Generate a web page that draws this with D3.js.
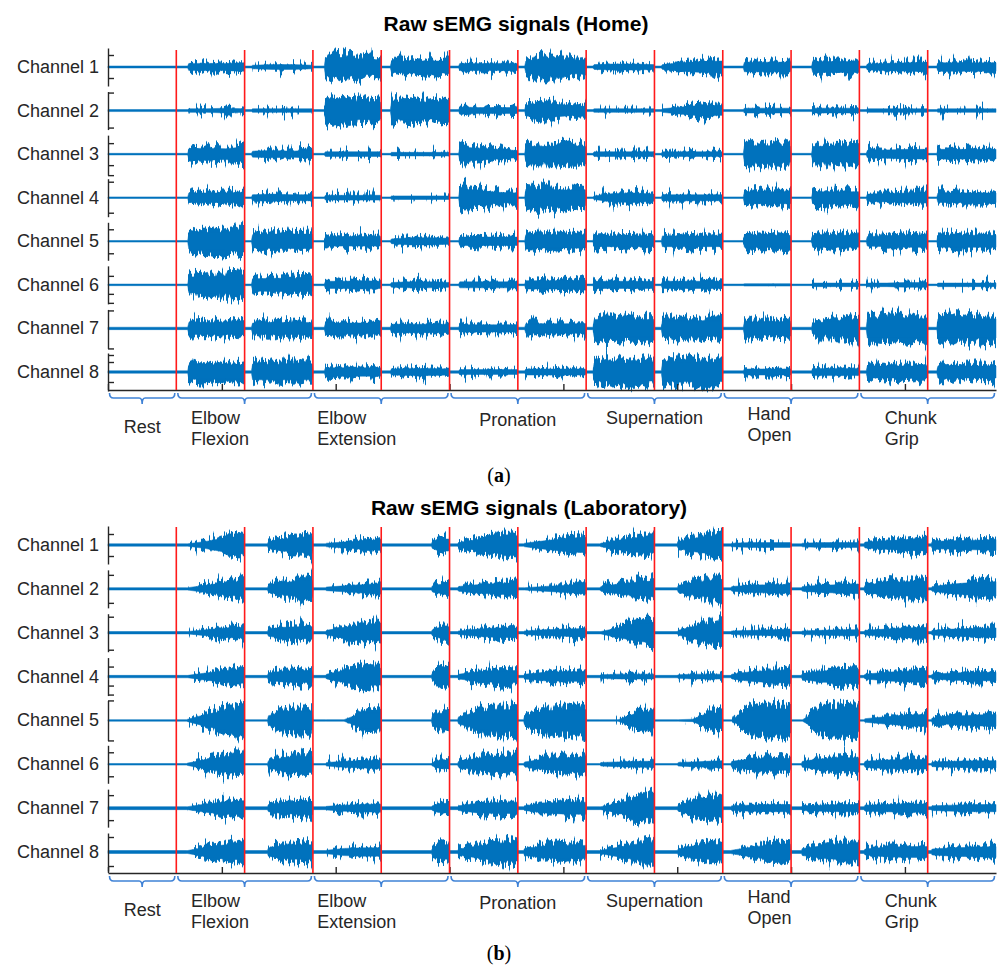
<!DOCTYPE html>
<html>
<head>
<meta charset="utf-8">
<script src="https://cdn.jsdelivr.net/npm/d3@7"></script>
<style>
  body { margin: 0; background: #fff; }
  svg { display: block; }
  text { font-family: "Liberation Sans", Arial, sans-serif; }
</style>
</head>
<body>
<svg id="chart" width="998" height="972"></svg>
<script>
// ---- data ----
const channels = ["Channel 1", "Channel 2", "Channel 3", "Channel 4", "Channel 5", "Channel 6", "Channel 7", "Channel 8"];
const gestureLines = [["Rest"], ["Elbow", "Flexion"], ["Elbow", "Extension"], ["Pronation"], ["Supernation"], ["Hand", "Open"], ["Chunk", "Grip"]];
const gestureSpans = [[0, 3], [3, 9], [9, 15], [15, 21], [21, 27], [27, 33], [33, 39]];   // seconds
const trialBounds = [3, 6, 9, 12, 15, 18, 21, 24, 27, 30, 33, 36];                      // red markers
const timeTicks = [0, 5, 10, 15, 20, 25, 30, 35];
const trialLength = 3;

// burst onset (s) for each of the 12 trials
const homeOnsets = [3.5, 6.3, 9.5, 12.4, 15.4, 18.3, 21.3, 24.3, 27.9, 30.9, 33.3, 36.4];
const labOnsets = [3.45, 7.0, 9.55, 14.2, 15.35, 18.25, 21.6, 25.0, 27.35, 30.45, 33.2, 36.15];

// resting noise amplitude per channel
const homeRest = [1, 1, 0.8, 0.8, 0.8, 0.8, 1.2, 1.2];
const labRest = [1.2, 1.2, 1.2, 1.2, 0.8, 0.8, 1.5, 1.5];

// burst envelope amplitude per channel and trial, 4 values from onset to trial end
const homeAmp = [
  [[6,6,6,7],[3,4,4,3],[15,16,13,12],[9,10,10,10],[6,6,6,6],[10,15,12,11],[4,5,5,4],[4,7,9,10],[8,8,8,8],[9,9,9,9],[5,6,7,8],[7,7,7,7]],
  [[3,3,4,3],[3,3,3,3],[15,16,15,14],[14,15,14,14],[6,5,5,5],[9,12,9,7],[3,3,3,3],[3,6,9,8],[4,4,4,4],[4,4,4,4],[3,3,3,3],[3,3,3,3]],
  [[9,10,9,12],[5,6,5,7],[4,4,4,4],[3,3,3,3],[12,10,8,6],[13,13,14,13],[4,4,4,4],[4,4,4,4],[14,14,14,13],[13,13,13,13],[6,7,8,8],[8,8,8,8]],
  [[8,8,8,9],[5,6,5,5],[4,4,4,4],[3,3,3,3],[15,12,9,8],[14,14,13,13],[3,7,8,6],[5,5,5,5],[10,10,10,10],[10,10,10,10],[6,7,8,9],[8,8,8,8]],
  [[13,15,15,18],[11,12,12,12],[8,8,8,8],[4,6,6,5],[7,7,7,7],[11,11,11,11],[9,9,9,9],[9,9,9,9],[10,10,10,10],[10,10,10,10],[8,9,10,10],[10,10,10,10]],
  [[13,14,15,17],[10,11,11,11],[6,6,7,6],[4,5,5,4],[5,5,5,5],[7,7,7,8],[6,6,6,6],[6,6,6,6],[2,2,2,2],[3,3,3,3],[3,3,4,4],[3,3,3,3]],
  [[10,10,10,10],[9,10,10,10],[9,9,9,9],[7,7,7,7],[6,6,6,6],[8,8,8,8],[15,15,15,15],[13,13,13,13],[11,11,11,12],[9,11,13,15],[16,16,16,16],[16,16,16,16]],
  [[12,12,12,12],[13,13,13,13],[7,7,7,7],[5,6,6,5],[4,4,4,4],[5,5,5,5],[15,15,15,15],[15,16,17,16],[5,5,5,5],[6,6,6,6],[10,10,10,10],[10,10,10,10]]
];
const labAmp = [
  [[2,6,12,15],[6,10,12,14],[3,5,7,9],[6,9,10,10],[4,9,14,15],[3,7,11,13],[3,8,12,13],[6,11,14,16],[3,4,4,4],[3,4,4,4],[5,7,9,10],[6,7,8,9]],
  [[2,6,10,13],[6,10,13,15],[3,5,7,9],[5,7,8,8],[4,7,9,10],[2,4,6,8],[4,8,11,13],[6,10,13,16],[4,6,7,7],[4,6,7,8],[6,10,12,13],[4,8,11,12]],
  [[2,5,8,9],[6,9,10,10],[4,9,12,12],[5,8,10,10],[3,6,8,8],[3,5,6,7],[2,8,14,17],[4,10,14,16],[3,4,5,6],[3,4,5,5],[4,6,8,9],[4,6,7,8]],
  [[2,6,10,11],[6,9,10,10],[4,10,15,14],[6,12,14,14],[4,8,10,10],[4,7,8,8],[3,4,4,4],[3,4,4,4],[4,8,10,11],[5,9,11,12],[4,7,9,10],[4,6,7,7]],
  [[2,10,16,18],[8,14,16,16],[1,1,13,13],[8,12,12,12],[6,14,18,18],[8,16,18,18],[1,1,12,13],[1,2,12,13],[1,18,19,19],[1,18,19,19],[3,6,9,10],[4,7,9,10]],
  [[2,8,13,14],[6,11,13,13],[3,5,6,7],[3,6,7,7],[5,10,12,12],[4,9,11,12],[3,4,5,5],[3,4,5,6],[5,9,10,10],[5,9,11,11],[5,7,8,8],[4,5,6,6]],
  [[2,7,10,10],[6,9,10,11],[3,5,6,7],[4,7,8,8],[4,8,9,9],[4,8,10,10],[2,8,15,17],[5,11,14,15],[4,5,6,6],[4,5,6,6],[5,6,7,7],[4,5,6,6]],
  [[2,8,12,13],[7,11,12,12],[3,6,7,7],[6,10,12,12],[5,10,14,15],[6,10,11,11],[3,8,13,16],[5,10,12,13],[3,8,12,13],[6,10,13,13],[5,8,9,9],[5,7,8,9]]
];

// y tick values of each channel's small axis
const homeTicks = [[12,-11],[18,-17],[11,-11,-21],[16,-15],[12,-12],[9,-9,-18],[18,-20],[17,10,-10]];
const labTicks = [[11,-11],[14,-14],[16,-17],[10,-9,-18],[20,-20],[12,-12],[13,-12],[15,-14]];

// ---- layout ----
const colors = {
  signal: "#0072bd",
  marker: "#ff1a1a",
  axis: "#262626",
  brace: "#3f82d6",
  text: "#262626"
};
const left = 108, right = 996;
const labelDy = [43, 34, 34, 36, 34, 30, 34];   // baseline of first label line below the axis
const coreShare = 0.6;                          // part of the envelope drawn solid, the rest gets a rough edge
const panels = [
  { title: "Raw sEMG signals (Home)", titleX: 516, titleY: 31, top: 50, axisY: 390, chanFirst: 67, chanLast: 372,
    onsets: homeOnsets, rest: homeRest, amp: homeAmp, ticks: homeTicks, tag: "a", tagY: 482 },
  { title: "Raw sEMG signals (Laboratory)", titleX: 529, titleY: 515, top: 527, axisY: 873, chanFirst: 545, chanLast: 852,
    onsets: labOnsets, rest: labRest, amp: labAmp, ticks: labTicks, tag: "b", tagY: 960 }
];

const svg = d3.select("#chart");
const x = d3.scaleLinear().domain([0, 39]).range([left, right]);

// rough edge for the bursts: vertical blur of the envelope cut by a column-wise texture,
// kept close to the envelope
const defs = svg.append("defs");
const f = defs.append("filter").attr("id", "rough")
  .attr("x", "0%").attr("y", "-40%").attr("width", "100%").attr("height", "180%")
  .attr("color-interpolation-filters", "sRGB");
f.append("feGaussianBlur").attr("in", "SourceAlpha").attr("stdDeviation", "0 4.5").attr("result", "b");
f.append("feTurbulence").attr("type", "fractalNoise").attr("baseFrequency", "0.45 0.03")
  .attr("numOctaves", 2).attr("seed", 7).attr("result", "t");
f.append("feColorMatrix").attr("in", "t").attr("type", "matrix")
  .attr("values", "0 0 0 0 0  0 0 0 0 0  0 0 0 0 0  1 0 0 0 0").attr("result", "n");
f.append("feComposite").attr("in", "b").attr("in2", "n").attr("operator", "arithmetic")
  .attr("k1", 0).attr("k2", 1).attr("k3", 1.8).attr("k4", -0.95).attr("result", "m");
f.append("feComponentTransfer").attr("in", "m").attr("result", "mk")
  .append("feFuncA").attr("type", "linear").attr("slope", 10).attr("intercept", -5);
f.append("feComponentTransfer").attr("in", "b").attr("result", "near")
  .append("feFuncA").attr("type", "linear").attr("slope", 30).attr("intercept", -0.9);
f.append("feComposite").attr("in", "mk").attr("in2", "near").attr("operator", "in").attr("result", "mask");
f.append("feFlood").attr("flood-color", colors.signal).attr("result", "c");
f.append("feComposite").attr("in", "c").attr("in2", "mask").attr("operator", "in");

// build the envelope points of one channel
function envelope(onsets, rest, amps) {
  const pts = [{ t: 0, a: rest }];
  onsets.forEach((o, k) => {
    const end = trialLength * (k + 2);
    const step = (end - o) / 3;
    const a = amps[k];
    const last = k === onsets.length - 1;
    pts.push({ t: o, a: rest });
    pts.push({ t: o + 0.05, a: a[0] });
    pts.push({ t: o + step, a: a[1] });
    pts.push({ t: o + 2 * step, a: a[2] });
    pts.push({ t: last ? end : end - 0.03, a: a[3] });
    if (!last) pts.push({ t: end, a: rest });
  });
  return pts;
}

function drawPanel(p) {
  const g = svg.append("g");
  const chanY = d3.scalePoint().domain(channels).range([p.chanFirst, p.chanLast]);

  g.append("text")
    .attr("x", p.titleX).attr("y", p.titleY)
    .attr("text-anchor", "middle")
    .attr("font-size", 21).attr("font-weight", "bold")
    .attr("fill", "#000")
    .text(p.title);

  channels.forEach((name, i) => {
    const cy = chanY(name);
    const y = d3.scaleLinear().domain([-20, 20]).range([cy + 20, cy - 20]);
    const rest = p.rest[i];

    // rough outer envelope of the bursts
    g.append("path")
      .datum(envelope(p.onsets, 0, p.amp[i]))
      .attr("d", d3.area().x(d => x(d.t)).y0(d => y(-d.a)).y1(d => y(d.a)))
      .attr("fill", colors.signal)
      .attr("filter", "url(#rough)");

    // solid core of the signal, including the resting line
    g.append("path")
      .datum(envelope(p.onsets, rest, p.amp[i]))
      .attr("d", d3.area().x(d => x(d.t))
        .y0(d => y(-Math.max(rest, d.a * coreShare)))
        .y1(d => y(Math.max(rest, d.a * coreShare))))
      .attr("fill", colors.signal)
      .attr("stroke", colors.signal)
      .attr("stroke-width", 0.5)
      .attr("stroke-linejoin", "round");

    // per-channel axis segment
    const ext = d3.extent(p.ticks[i].concat([-19, 19]));
    const yAx = d3.scaleLinear().domain(ext).range([y(ext[0]), y(ext[1])]);
    const ax = g.append("g")
      .attr("transform", `translate(${left},0)`)
      .call(d3.axisRight(yAx).tickValues(p.ticks[i]).tickSize(6).tickSizeOuter(0).tickFormat(""));
    ax.selectAll("path, line").attr("stroke", colors.axis).attr("stroke-width", 1.4);

    g.append("text")
      .attr("x", 99).attr("y", cy + 6)
      .attr("text-anchor", "end")
      .attr("font-size", 18)
      .attr("fill", colors.text)
      .text(name);
  });

  // x axis with inward ticks
  const xa = g.append("g")
    .attr("transform", `translate(0,${p.axisY})`)
    .call(d3.axisBottom(x).tickValues(timeTicks).tickSize(-6).tickSizeOuter(0).tickFormat(""));
  xa.selectAll("path, line").attr("stroke", colors.axis).attr("stroke-width", 1.4);

  // red trial markers
  g.selectAll(".marker")
    .data(trialBounds)
    .enter().append("line")
    .attr("x1", d => x(d)).attr("x2", d => x(d))
    .attr("y1", p.top).attr("y2", p.axisY)
    .attr("stroke", colors.marker)
    .attr("stroke-width", 1.6);

  // braces under each gesture
  const yt = p.axisY + 3, yl = p.axisY + 8, yn = p.axisY + 14;
  g.selectAll(".brace")
    .data(gestureSpans)
    .enter().append("path")
    .attr("d", d => {
      const x0 = x(d[0]) + 1.5, x1 = x(d[1]) - 1.5, xc = (x0 + x1) / 2;
      return `M${x0},${yt} Q${x0},${yl} ${x0 + 4},${yl} L${xc - 3},${yl} Q${xc},${yl} ${xc},${yn} ` +
             `Q${xc},${yl} ${xc + 3},${yl} L${x1 - 4},${yl} Q${x1},${yl} ${x1},${yt}`;
    })
    .attr("fill", "none")
    .attr("stroke", colors.brace)
    .attr("stroke-width", 1.6);

  // gesture labels, left aligned block centred under its brace
  gestureLines.forEach((lines, k) => {
    const t = g.append("text")
      .attr("font-size", 18)
      .attr("fill", colors.text);
    lines.forEach((s, j) => {
      t.append("tspan")
        .attr("y", p.axisY + labelDy[k] + j * 21)
        .text(s);
    });
    const w = t.node().getBBox().width;
    const xc = x((gestureSpans[k][0] + gestureSpans[k][1]) / 2);
    t.selectAll("tspan").attr("x", xc - w / 2);
  });

  // panel tag
  const tag = g.append("text")
    .attr("x", 499).attr("y", p.tagY)
    .attr("text-anchor", "middle")
    .attr("font-size", 20)
    .attr("fill", "#000")
    .style("font-family", "'Liberation Serif', 'DejaVu Serif', serif");
  tag.append("tspan").text("(");
  tag.append("tspan").attr("font-weight", "bold").text(p.tag);
  tag.append("tspan").text(")");
}

panels.forEach(drawPanel);
</script>
</body>
</html>
